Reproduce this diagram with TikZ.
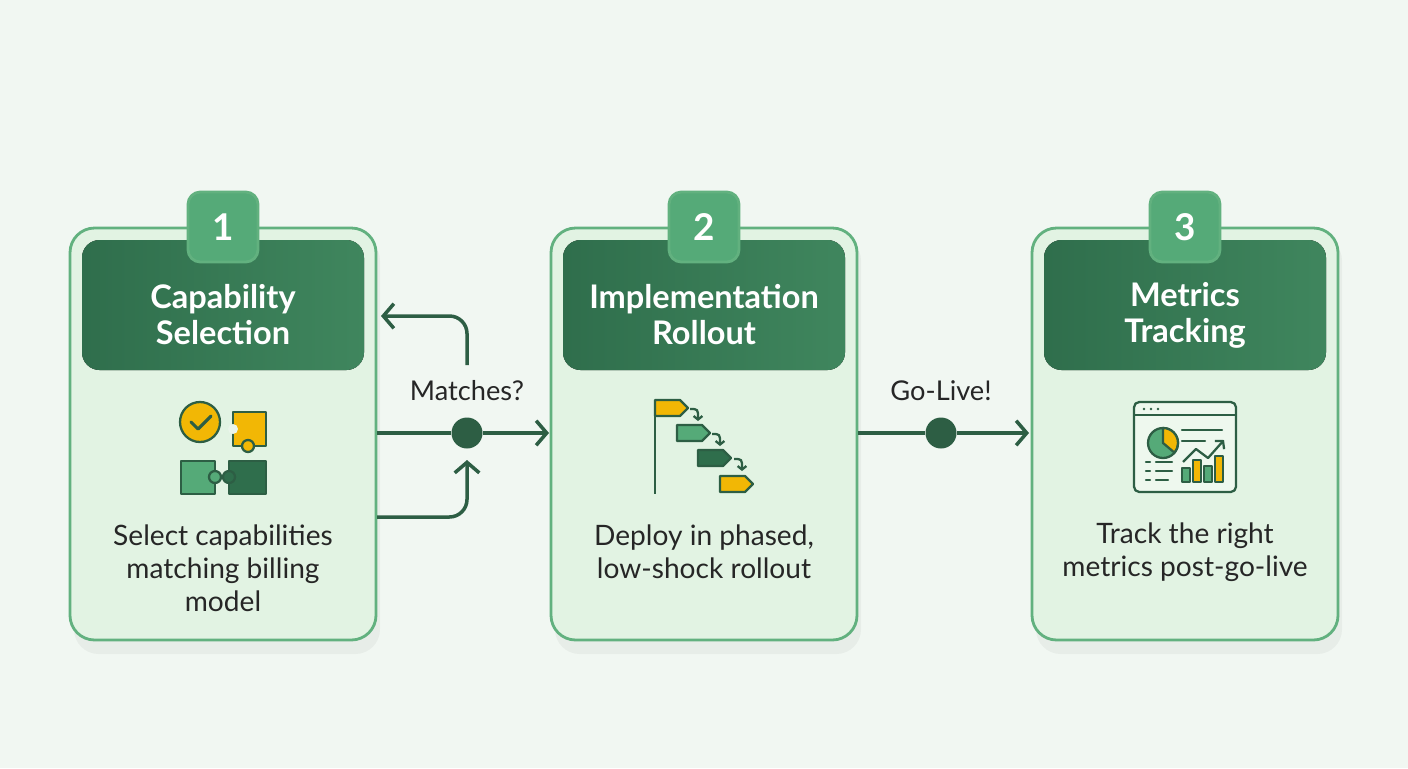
\documentclass[tikz,border=0pt]{standalone}
\usepackage{fontspec}
\setmainfont{Lato}
\usetikzlibrary{arrows.meta,positioning,calc}
\definecolor{bgc}{HTML}{F1F7F2}
\definecolor{cardc}{HTML}{E2F3E3}
\definecolor{edgec}{HTML}{62B17F}
\definecolor{darkg}{HTML}{2F6E4C}
\definecolor{headg}{HTML}{3A7D57}
\definecolor{midg}{HTML}{55AA78}
\definecolor{linec}{HTML}{2D5E44}
\definecolor{yel}{HTML}{F2B705}
\tikzset{
  card/.style={draw=edgec, line width=1.6pt, fill=cardc, rounded corners=14pt},
  head/.style={left color=darkg, right color=headg!80!midg, rounded corners=10pt},
  badge/.style={draw=edgec, line width=1.6pt, fill=midg, rounded corners=7pt, minimum width=1.4cm, minimum height=1.4cm, text=white, font=\bfseries\fontsize{21}{21}\selectfont},
  ttl/.style={text=white, font=\bfseries\fontsize{18.5}{20.5}\selectfont, align=center},
  body/.style={text=black!85, font=\fontsize{16}{18.8}\selectfont, align=center},
  lbl/.style={text=black!85, font=\fontsize{15.5}{17}\selectfont},
  conn/.style={draw=linec, line width=2pt, -{Straight Barb[length=6pt,width=14pt]}},
  dot/.style={circle, fill=linec, minimum size=0.62cm, inner sep=0pt},
  ico/.style={draw=linec, line width=1.3pt, line join=round},
}
\begin{document}
\begin{tikzpicture}[x=0.02cm, y=-0.02cm]
  \useasboundingbox (0,0) rectangle (1408,768);
  \fill[bgc] (0,0) rectangle (1408,768);

  % Cards
  \foreach \cx/\n in {70/1, 551/2, 1032/3} {
    \fill[black, opacity=0.04, rounded corners=14pt] (\cx+4,236) rectangle ++(306,418);
    \draw[card] (\cx,228) rectangle ++(306,412);
    \fill[head] (\cx+12,240) rectangle ++(282,130);
    \node[badge] (b\n) at (\cx+153,227) {\n};
  }
  \node[ttl] (t1) at (223,315) {Capability\\Selection};
  \node[ttl] (t2) at (704,315) {Implementation\\Rollout};
  \node[ttl] (t3) at (1185,315) {Metrics\\Tracking};
  \node[body] (d1) at (223,568) {Select capabilities\\matching billing\\model};
  \node[body] (d2) at (704,552) {Deploy in phased,\\low-shock rollout};
  \node[body] (d3) at (1185,552) {Track the right\\metrics post-go-live};

  % Connectors
  \coordinate (o1) at (377,433);
  \coordinate (i2) at (549,433);
  \coordinate (o2) at (858,433);
  \coordinate (i3) at (1029,433);
  \node[dot] (m1) at (467,433) {};
  \node[dot] (m2) at (941,433) {};
  \node[lbl] (l1) at (467,391) {Matches?};
  \node[lbl] (l2) at (941,391) {Go-Live!};
  \draw[linec, line width=2pt] (o1) -- (m1);
  \draw[conn] (m1) -- (i2);
  \draw[linec, line width=2pt] (o2) -- (m2);
  \draw[conn] (m2) -- (i3);
  \coordinate (u0) at (467,365);
  \coordinate (u1) at (381,316);
  \draw[conn, rounded corners=10pt] (u0) |- (u1);
  \coordinate (w0) at (377,517);
  \coordinate (w1) at (467,460);
  \draw[conn, rounded corners=10pt] (w0) -| (w1);

  % Icon 1
  \draw[ico, fill=yel] (200,422) circle (20);
  \draw[linec, line width=1.8pt, line cap=round, line join=round] (191,422) -- (198,429) -- (211,416);
  \draw[ico, fill=yel] (233,412) rectangle (266,446);
  \draw[ico, fill=midg] (181,461) rectangle (215,494);
  \draw[ico, fill=darkg] (229,461) rectangle (266,494);
  \fill[bgc!50!cardc] (233,429) circle (5);
  \draw[ico, fill=yel] (248,446) circle (6);
  \draw[ico, fill=midg] (215,477) circle (6);
  \draw[ico, fill=darkg] (229,477) circle (6);

  % Icon 2
  \draw[ico] (655,400) -- (655,494);
  \foreach \x/\y/\c in {655/400/yel, 677/425/midg, 698/450/darkg, 720/476/yel}
    \draw[ico, fill=\c] (\x,\y) -- ++(25,0) -- ++(8,8) -- ++(-8,8) -- ++(-25,0) -- cycle;
  \foreach \x/\y in {690/409, 712/434, 734/459}
    \draw[linec, line width=1.3pt, -{Straight Barb[length=2pt,width=5pt]}] (\x,\y) .. controls (\x+8,\y) .. (\x+8,\y+12);

  % Icon 3
  \draw[ico, fill=cardc!60!white, rounded corners=3pt] (1134,402) rectangle (1236,492);
  \draw[ico] (1134,415) -- (1236,415);
  \foreach \x in {1144,1151,1158} \fill[linec] (\x,409) circle (1.3);
  \draw[ico, fill=midg] (1163,443) circle (15);
  \draw[ico, fill=yel] (1163,443) -- ++(-90:15) arc (-90:40:15) -- cycle;
  \draw[ico, line cap=round] (1182,430) -- (1222,430) (1182,441) -- (1205,441);
  \draw[ico, line cap=round] (1146,462) -- (1150,462) (1146,471) -- (1150,471) (1146,480) -- (1150,480);
  \draw[ico, line cap=round] (1156,462) -- (1172,462) (1156,471) -- (1172,471) (1156,480) -- (1168,480);
  \draw[ico, -{Straight Barb[length=3pt,width=7pt]}] (1183,462) -- (1196,449) -- (1208,458) -- (1224,440);
  \foreach \x/\h/\c in {1182/14/midg, 1193/22/yel, 1204/16/midg, 1215/26/yel}
    \draw[ico, fill=\c] (\x,482) rectangle ++(8,-\h);
\end{tikzpicture}
\end{document}
